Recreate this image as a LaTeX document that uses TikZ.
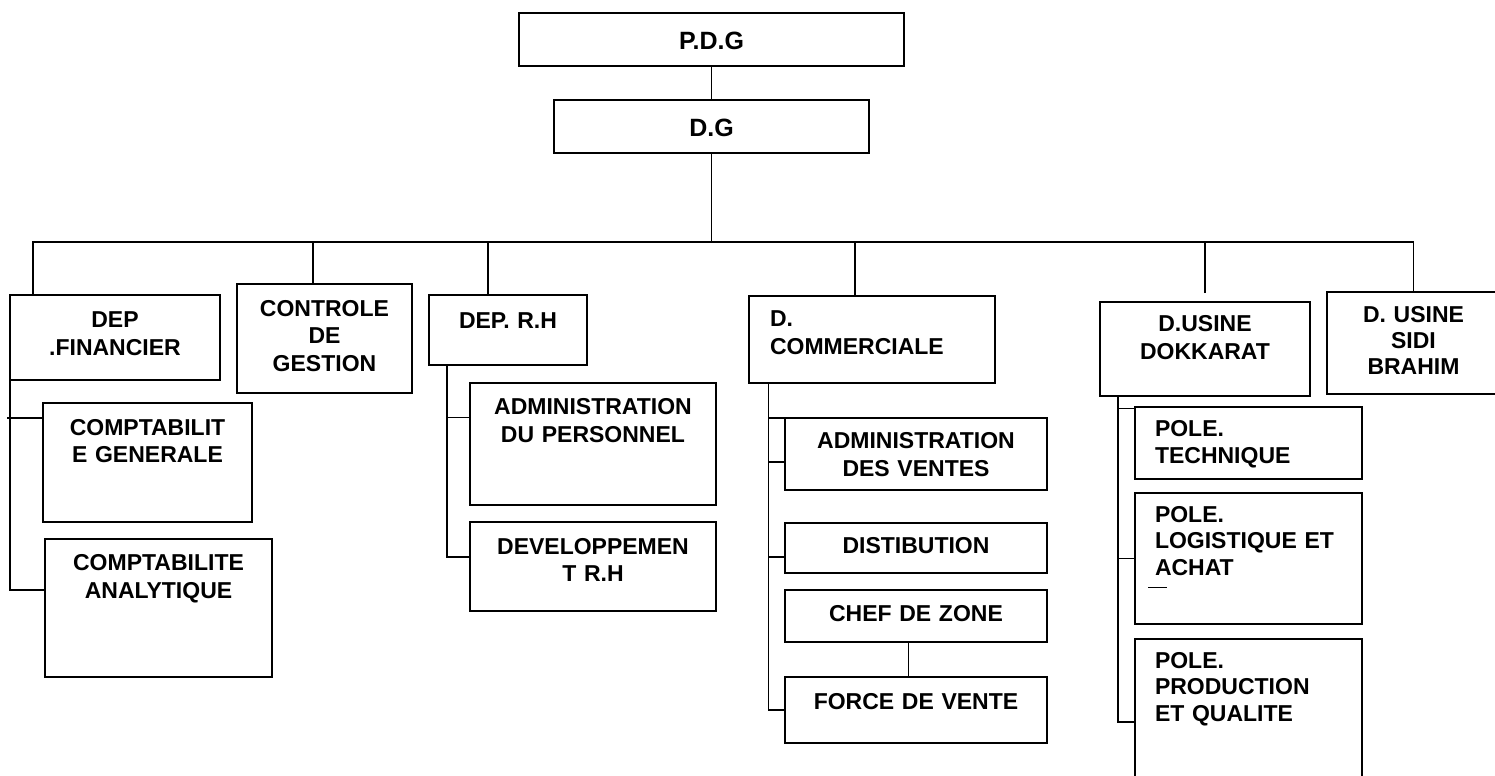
\documentclass[tikz,border=0pt]{standalone}
\usepackage{fontspec}
\setmainfont{Liberation Sans}
\usepackage{tikz}
\usetikzlibrary{positioning}

\begin{document}
\begin{tikzpicture}[x=0.5pt, y=-0.5pt,
        unit/.style={draw, line width=0.9pt, anchor=north west, inner sep=0pt, outer sep=0pt,
            align=center, font=\bfseries\fontsize{11.5pt}{13.8pt}\selectfont},
        leftunit/.style={unit, align=left, inner xsep=10pt,
            font=\bfseries\fontsize{11.5pt}{13.2pt}\selectfont},
        topunit/.style={unit, font=\bfseries\fontsize{12.5pt}{14pt}\selectfont},
        link/.style={line width=0.9pt}]
        \useasboundingbox (0,0) rectangle (1495,776);

        \node[topunit, text width=192.5pt, text height=18.2pt, text depth=8.3pt] (pdg) at (519,13) {P.D.G};
        \node[topunit, text width=157.5pt, text height=18.3pt, text depth=8.3pt] (dg) at (554,100) {D.G};
        \coordinate (hub) at (711.5,242);

        \node[unit, text width=105pt, text height=16.2pt, text depth=26.3pt] (fin) at (10,295) {DEP\\.FINANCIER};
        \node[unit, text width=87.5pt, text height=16pt, text depth=38.5pt] (cdg) at (237,284) {CONTROLE\\DE\\GESTION};
        \node[unit, text width=79pt, text height=16.7pt, text depth=18.3pt] (rh) at (429,295) {DEP. R.H};
        \node[leftunit, inner xsep=10.5pt, text width=102pt, text height=15.3pt, text depth=28.2pt] (com) at (749,296) {D.\\[0.8pt]COMMERCIALE};
        \node[unit, text width=105pt, text height=14.8pt, text depth=32.2pt] (dok) at (1100,302) {D.USINE\\DOKKARAT};
        \node[unit, text width=86.5pt, text height=15.3pt, text depth=35.7pt] (sidi) at (1327,292) {D. USINE\\[-0.9pt]SIDI\\[-0.9pt]BRAHIM};

        \node[unit, text width=104.5pt, text height=16pt, text depth=43.5pt] (cg) at (43,403) {COMPTABILIT\\E GENERALE};
        \node[unit, text width=113.5pt, text height=15.8pt, text depth=53.2pt] (ca) at (45,539) {COMPTABILITE\\ANALYTIQUE};

        \node[unit, text width=123pt, text height=15.7pt, text depth=45.3pt] (ap) at (470,383) {ADMINISTRATION\\DU PERSONNEL};
        \node[unit, text width=123pt, text height=16pt, text depth=28.5pt] (dev) at (470,522) {DEVELOPPEMEN\\T R.H};

        \node[unit, text width=131pt, text height=15.2pt, text depth=20.8pt] (av) at (785,418) {ADMINISTRATION\\DES VENTES};
        \node[unit, text width=131pt, text height=15.2pt, text depth=9.8pt] (dis) at (785,523) {DISTIBUTION};
        \node[unit, text width=131pt, text height=15.8pt, text depth=10.2pt] (cz) at (785,590) {CHEF DE ZONE};
        \node[unit, text width=131pt, text height=16pt, text depth=17pt] (fv) at (785,677) {FORCE DE VENTE};

        \node[leftunit, text width=93.5pt, text height=14.8pt, text depth=21.2pt] (pt) at (1135,407) {POLE.\\TECHNIQUE};
        \node[leftunit, text width=93.5pt, text height=14.7pt, text depth=50.8pt] (pl) at (1135,493) {POLE.\\LOGISTIQUE ET\\ACHAT};
        \node[leftunit, text width=93.5pt, text height=14.7pt, text depth=68pt] (pp) at (1135,639) {POLE.\\PRODUCTION\\ET QUALITE};

        \draw[link] (pdg.south) -- (dg.north);
        \draw[link] (dg.south) -- (hub);
        \draw[link] ([xshift=11.5pt]fin.north west) |- (hub) -| (sidi.north);
        \draw[link] ([xshift=-5.7pt]cdg.north) |- (hub);
        \draw[link] ([xshift=-10pt]rh.north) |- (hub);
        \draw[link] ([xshift=-8.5pt]com.north) |- (hub);
        \draw[link, shorten <=4.5pt] (dok.north) |- (hub);

        \draw[link] (fin.south west) |- ([yshift=9pt]ca.west);
        \draw[link] ([yshift=-7.4pt]cg.north west) -- ++(-36,0);

        \draw[link] ([xshift=8.9pt]rh.south west) |- ([yshift=4.6pt]dev.west);
        \draw[link] ([xshift=8.9pt]rh.south west) |- ([yshift=13.3pt]ap.west);

        \draw[link] ([xshift=9.7pt]com.south west) |- (fv.west);
        \draw[link] ([xshift=9.7pt]com.south west) |- ([xshift=17.5pt]av.north west);
        \draw[link] ([xshift=9.7pt]com.south west) |- ([yshift=-3.9pt]av.west);
        \draw[link] ([xshift=9.7pt]com.south west) |- ([yshift=-4.6pt]dis.west);
        \draw[link] ([xshift=-3.8pt]cz.south) -- ([xshift=-3.8pt]fv.north);

        \draw[link] ([xshift=8.9pt]dok.south west) |- (pp.west);
        \draw[link] ([xshift=8.9pt]dok.south west) |- ([yshift=-0.7pt]pt.north west);
        \draw[link] ([xshift=8.9pt]dok.south west) |- (pl.west);
        \draw[link] ([xshift=6.7pt, yshift=-47.2pt]pl.north west) -- ++(19,0);
    \end{tikzpicture}
\end{document}
